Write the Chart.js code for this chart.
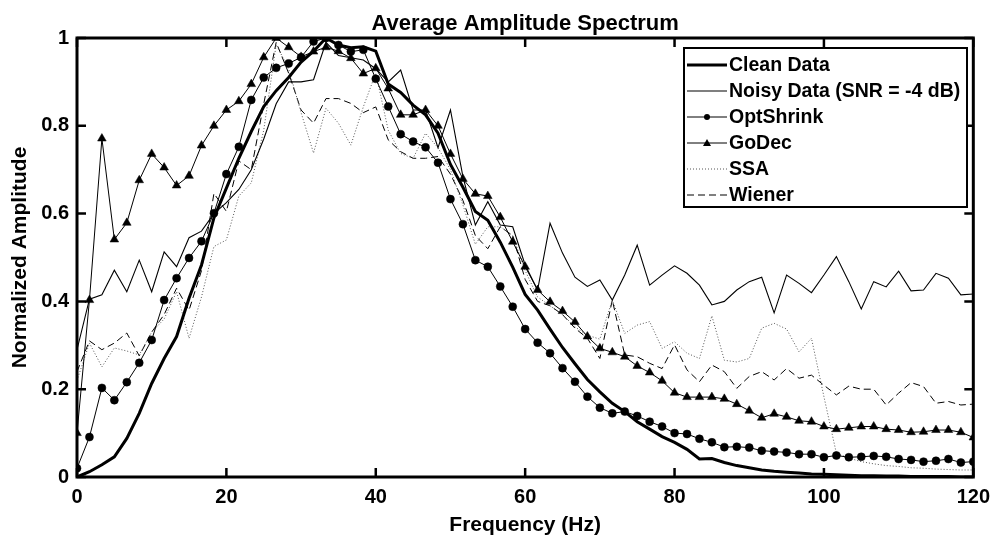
<!DOCTYPE html>
<html><head><meta charset="utf-8">
<script src="https://cdn.jsdelivr.net/npm/chart.js@4.4.0/dist/chart.umd.min.js"></script>
<style>html,body{margin:0;padding:0;background:#fff;overflow:hidden}canvas{display:block}</style>
</head><body>
<canvas id="c" width="998" height="539"></canvas>
<script>
const frequencies = [0,1.667,3.333,5,6.667,8.333,10,11.667,13.333,15,16.667,18.333,20,21.667,23.333,25,26.667,28.333,30,31.667,33.333,35,36.667,38.333,40,41.667,43.333,45,46.667,48.333,50,51.667,53.333,55,56.667,58.333,60,61.667,63.333,65,66.667,68.333,70,71.667,73.333,75,76.667,78.333,80,81.667,83.333,85,86.667,88.333,90,91.667,93.333,95,96.667,98.333,100,101.667,103.333,105,106.667,108.333,110,111.667,113.333,115,116.667,118.333,120];

const cleanData = [0.000,0.012,0.028,0.046,0.088,0.145,0.213,0.270,0.320,0.407,0.483,0.590,0.658,0.726,0.787,0.844,0.880,0.910,0.945,0.970,1.000,0.984,0.978,0.980,0.970,0.895,0.876,0.847,0.825,0.783,0.712,0.660,0.605,0.585,0.535,0.478,0.416,0.380,0.337,0.295,0.258,0.222,0.194,0.168,0.149,0.126,0.109,0.092,0.079,0.063,0.041,0.042,0.033,0.026,0.021,0.016,0.013,0.011,0.009,0.007,0.006,0.005,0.004,0.003,0.003,0.002,0.002,0.001,0.001,0.001,0.001,0.000,0.000];

const noisyData = [0.290,0.405,0.415,0.471,0.422,0.494,0.422,0.513,0.479,0.545,0.560,0.600,0.625,0.655,0.700,0.770,0.850,0.900,0.900,0.905,0.990,0.960,0.955,0.950,0.930,0.900,0.927,0.836,0.836,0.750,0.836,0.684,0.574,0.627,0.574,0.570,0.483,0.426,0.578,0.510,0.455,0.434,0.449,0.403,0.460,0.528,0.437,0.460,0.481,0.464,0.437,0.392,0.400,0.426,0.445,0.455,0.374,0.460,0.441,0.420,0.460,0.502,0.445,0.383,0.445,0.433,0.469,0.424,0.426,0.464,0.453,0.415,0.417];

const optShrinkData = [0.020,0.091,0.203,0.175,0.216,0.260,0.312,0.403,0.453,0.499,0.537,0.601,0.690,0.752,0.859,0.910,0.932,0.942,0.956,0.992,1.000,0.984,0.969,0.973,0.907,0.844,0.781,0.764,0.751,0.716,0.633,0.576,0.494,0.479,0.434,0.388,0.337,0.306,0.282,0.248,0.217,0.183,0.158,0.145,0.149,0.139,0.126,0.115,0.100,0.098,0.087,0.079,0.068,0.069,0.067,0.060,0.058,0.056,0.052,0.052,0.045,0.049,0.045,0.046,0.048,0.046,0.041,0.039,0.035,0.037,0.041,0.033,0.035];

const goDecData = [0.100,0.403,0.771,0.541,0.579,0.676,0.736,0.705,0.664,0.686,0.755,0.800,0.836,0.856,0.895,0.956,1.000,0.979,0.957,0.969,0.979,0.970,0.954,0.919,0.931,0.885,0.825,0.825,0.836,0.800,0.736,0.679,0.645,0.640,0.592,0.536,0.479,0.426,0.399,0.378,0.353,0.320,0.293,0.284,0.274,0.253,0.238,0.219,0.192,0.182,0.182,0.182,0.178,0.166,0.151,0.135,0.144,0.137,0.128,0.126,0.115,0.109,0.112,0.115,0.115,0.109,0.107,0.102,0.103,0.107,0.107,0.102,0.090];

const ssaData = [0.220,0.305,0.251,0.294,0.287,0.278,0.330,0.360,0.422,0.316,0.410,0.525,0.540,0.640,0.670,0.790,0.985,0.930,0.830,0.738,0.840,0.806,0.756,0.843,0.920,0.790,0.737,0.726,0.783,0.750,0.700,0.620,0.530,0.570,0.570,0.550,0.470,0.410,0.390,0.370,0.342,0.323,0.314,0.403,0.327,0.346,0.354,0.293,0.308,0.282,0.270,0.367,0.266,0.262,0.270,0.339,0.350,0.337,0.285,0.316,0.183,0.054,0.043,0.035,0.030,0.026,0.024,0.021,0.020,0.018,0.017,0.016,0.016];

const wienerData = [0.240,0.310,0.290,0.305,0.328,0.276,0.330,0.370,0.430,0.380,0.470,0.646,0.605,0.720,0.700,0.850,0.990,0.920,0.836,0.806,0.862,0.862,0.851,0.830,0.843,0.768,0.741,0.726,0.726,0.730,0.690,0.630,0.550,0.520,0.570,0.550,0.450,0.400,0.390,0.370,0.339,0.316,0.270,0.403,0.278,0.274,0.259,0.247,0.301,0.244,0.217,0.255,0.240,0.202,0.229,0.240,0.221,0.247,0.225,0.232,0.209,0.187,0.207,0.200,0.200,0.164,0.191,0.215,0.206,0.168,0.172,0.164,0.166];

const seriesNames = ['Clean Data','Noisy Data (SNR = -4 dB)','OptShrink','GoDec','SSA','Wiener'];
const xTicks = [0,20,40,60,80,100,120];
const yTicks = [0,0.2,0.4,0.6,0.8,1];
const chartTitle = 'Average Amplitude Spectrum';
const xTitle = 'Frequency (Hz)';
const yTitle = 'Normalized Amplitude';

const FONT = "'Liberation Sans', Arial, sans-serif";
function pts(arr){ return frequencies.map((f,i)=>({x:f,y:arr[i]})); }

const datasets = [
  {label:seriesNames[0], data:pts(cleanData), borderColor:'#000', borderWidth:3, pointRadius:0},
  {label:seriesNames[1], data:pts(noisyData), borderColor:'#000', borderWidth:1.1, pointRadius:0},
  {label:seriesNames[2], data:pts(optShrinkData), borderColor:'#000', borderWidth:1, pointRadius:4, pointStyle:'circle', pointBackgroundColor:'#000', pointBorderColor:'#000', pointBorderWidth:0.5},
  {label:seriesNames[3], data:pts(goDecData), borderColor:'#000', borderWidth:1, pointRadius:5, pointStyle:'triangle', pointBackgroundColor:'#000', pointBorderColor:'#000', pointBorderWidth:0.5},
  {label:seriesNames[4], data:pts(ssaData), borderColor:'#555', borderWidth:1, borderDash:[1,2], pointRadius:0},
  {label:seriesNames[5], data:pts(wienerData), borderColor:'#000', borderWidth:1, borderDash:[7,4], pointRadius:0}
];
datasets.forEach(d=>{d.tension=0; d.fill=false; d.pointHoverRadius=d.pointRadius;});

const framePlugin = {
  id:'frame',
  afterDatasetsDraw(chart){
    const ctx = chart.ctx, a = chart.chartArea;
    const xs = chart.scales.x, ys = chart.scales.y;
    ctx.save();
    ctx.strokeStyle = '#000';
    ctx.lineWidth = 2.5;
    const tl = 9;
    ctx.beginPath();
    xTicks.forEach(v=>{
      const px = xs.getPixelForValue(v);
      ctx.moveTo(px, a.bottom); ctx.lineTo(px, a.bottom - tl);
      ctx.moveTo(px, a.top); ctx.lineTo(px, a.top + tl);
    });
    yTicks.forEach(v=>{
      const py = ys.getPixelForValue(v);
      ctx.moveTo(a.left, py); ctx.lineTo(a.left + tl, py);
      ctx.moveTo(a.right, py); ctx.lineTo(a.right - tl, py);
    });
    ctx.stroke();
    ctx.lineWidth = 3;
    ctx.strokeRect(a.left, a.top, a.right - a.left, a.bottom - a.top);
    ctx.fillStyle = '#000';
    ctx.font = "bold 22px " + FONT;
    ctx.textAlign = 'center';
    ctx.textBaseline = 'alphabetic';
    ctx.fillText(chartTitle, (a.left + a.right)/2, 29.5);
    ctx.restore();
  }
};

const legendPlugin = {
  id:'boxLegend',
  afterDraw(chart){
    const ctx = chart.ctx;
    const bx = 684, by = 48, bw = 283, bh = 159;
    ctx.save();
    ctx.fillStyle = '#fff';
    ctx.fillRect(bx, by, bw, bh);
    ctx.strokeStyle = '#000';
    ctx.lineWidth = 2;
    ctx.strokeRect(bx, by, bw, bh);
    ctx.font = "bold 19.5px " + FONT;
    ctx.textBaseline = 'middle';
    ctx.textAlign = 'left';
    const rowY0 = 65, rowH = 26, x0 = 687, x1 = 727, tx = 729;
    chart.data.datasets.forEach((d,i)=>{
      const y = rowY0 + i*rowH;
      ctx.beginPath();
      ctx.strokeStyle = d.borderColor;
      ctx.lineWidth = d.borderWidth;
      ctx.setLineDash(d.borderDash || []);
      ctx.moveTo(x0, y); ctx.lineTo(x1, y);
      ctx.stroke();
      ctx.setLineDash([]);
      const cx = (x0 + x1)/2;
      ctx.fillStyle = '#000';
      if (d.pointStyle === 'circle') {
        ctx.beginPath(); ctx.arc(cx, y, 3, 0, Math.PI*2); ctx.fill();
      } else if (d.pointStyle === 'triangle') {
        ctx.beginPath(); ctx.moveTo(cx, y-4); ctx.lineTo(cx+4, y+3); ctx.lineTo(cx-4, y+3); ctx.closePath(); ctx.fill();
      }
      ctx.fillStyle = '#000';
      ctx.fillText(d.label, tx, y+1);
    });
    ctx.restore();
  }
};

new Chart(document.getElementById('c'), {
  type:'line',
  data:{datasets},
  options:{
    responsive:false,
    animation:false,
    devicePixelRatio:1,
    layout:{padding:{left:0, right:21, top:38, bottom:0}},
    plugins:{
      legend:{display:false},
      tooltip:{enabled:false},
      title:{display:false}
    },
    scales:{
      x:{type:'linear', min:0, max:120,
         afterBuildTicks(s){ s.ticks = xTicks.map(v=>({value:v})); },
         afterFit(s){ s.height = 62; },
         grid:{display:false, drawTicks:false},
         border:{display:false},
         ticks:{color:'#000', padding:8, maxRotation:0, font:{family:FONT, size:20, weight:'bold'}},
         title:{display:true, text:xTitle, color:'#000', font:{family:FONT, size:21, weight:'bold'}, padding:{top:0,bottom:1}}
      },
      y:{type:'linear', min:0, max:1,
         afterBuildTicks(s){ s.ticks = yTicks.map(v=>({value:v})); },
         afterFit(s){ s.width = 77; },
         grid:{display:false, drawTicks:false},
         border:{display:false},
         ticks:{color:'#000', padding:8, font:{family:FONT, size:20, weight:'bold'}, callback:(v)=>String(+v.toFixed(1))},
         title:{display:true, text:yTitle, color:'#000', font:{family:FONT, size:21, weight:'bold'}, padding:{top:8,bottom:0}}
      }
    }
  },
  plugins:[framePlugin, legendPlugin]
});
</script>
</body></html>
